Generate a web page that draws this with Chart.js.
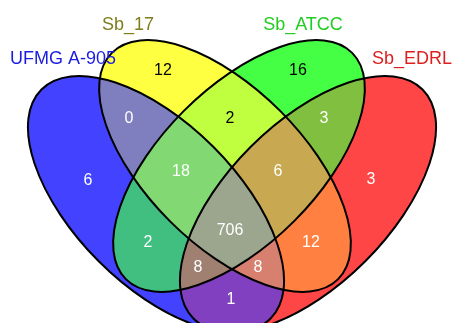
<!DOCTYPE html>
<html>
<head>
<meta charset="utf-8">
<script src="https://cdn.jsdelivr.net/npm/chart.js@4.4.1/dist/chart.umd.min.js"></script>
<style>
  html, body { margin: 0; padding: 0; background: #fff; }
  #wrap { width: 452px; height: 323px; }
</style>
</head>
<body>
<div id="wrap"><canvas id="venn"></canvas></div>
<script>
// ---- data ----
// sets: A = UFMG A-905, B = Sb_17, C = Sb_ATCC, D = Sb_EDRL
const setKeys = ['A', 'B', 'C', 'D'];
const setNames = ['UFMG A-905', 'Sb_17', 'Sb_ATCC', 'Sb_EDRL'];

// every region of the diagram and how many genes fall in it
const regionSets = ['A', 'B', 'C', 'D', 'AB', 'BC', 'CD', 'AC', 'BD', 'AD', 'ABC', 'BCD', 'ACD', 'ABD', 'ABCD'];
const regionCounts = [6, 12, 16, 3, 0, 2, 3, 2, 12, 1, 18, 6, 8, 8, 706];

// ---- layout (canvas units, 1 unit = 1px) ----
const ellipses = [
  { x: 156, y: 204, a: 162, b: 81, rot: 45 },
  { x: 225, y: 166, a: 160, b: 78, rot: 45 },
  { x: 239, y: 166, a: 160, b: 78, rot: -45 },
  { x: 308, y: 204, a: 162, b: 81, rot: -45 }
];
const regionLabelX = [88, 163, 298, 371, 129, 230, 324, 148, 311, 231, 181, 278, 198, 258, 230];
const regionLabelY = [181, 71, 71, 180, 119, 119, 119, 243, 243, 300, 172, 172, 268, 268, 231];
const setLabelX = [63, 128, 303, 412];
const setLabelY = [59, 25, 25, 59];

// ---- styles ----
const regionColors = [
  '#4242FF', '#FFFF42', '#45FF45', '#FF4646',
  '#7F7FBF', '#BFFF40', '#80BF40', '#40BF80', '#FF8040', '#8040C0',
  '#82D873', '#C8A850', '#A08070', '#D88070', '#9CA58E'
];
const darkText = ['B', 'C', 'BC'];
const setTextColors = ['#1C1CE0', '#7D7D1C', '#22CC22', '#DD1F1F'];
const FONT = '"Liberation Sans", Arial, sans-serif';

function ellipsePath(ctx, e, xs, ys) {
  const cx = xs.getPixelForValue(e.x);
  const cy = ys.getPixelForValue(e.y);
  const rx = Math.abs(xs.getPixelForValue(e.x + e.a) - cx);
  const ry = Math.abs(xs.getPixelForValue(e.x + e.b) - cx);
  ctx.ellipse(cx, cy, rx, ry, e.rot * Math.PI / 180, 0, Math.PI * 2);
}

// fills each region of the four ellipses, then the outlines
const vennPlugin = {
  id: 'venn',
  beforeDatasetsDraw(chart) {
    const ctx = chart.ctx;
    const xs = chart.scales.x, ys = chart.scales.y;
    const W = chart.width, H = chart.height;

    regionSets.forEach((key, i) => {
      ctx.save();
      setKeys.forEach((s, k) => {
        ctx.beginPath();
        if (key.includes(s)) {
          ellipsePath(ctx, ellipses[k], xs, ys);
          ctx.clip();
        } else {
          ctx.rect(-10, -10, W + 20, H + 20);
          ellipsePath(ctx, ellipses[k], xs, ys);
          ctx.clip('evenodd');
        }
      });
      ctx.fillStyle = regionColors[i];
      ctx.fillRect(0, 0, W, H);
      ctx.restore();
    });

    ctx.save();
    ctx.strokeStyle = '#000';
    ctx.lineWidth = 2;
    ellipses.forEach(e => {
      ctx.beginPath();
      ellipsePath(ctx, e, xs, ys);
      ctx.stroke();
    });
    ctx.restore();
  },
  afterDatasetsDraw(chart) {
    const ctx = chart.ctx;
    ctx.save();
    ctx.textAlign = 'center';
    ctx.textBaseline = 'middle';

    ctx.font = '16px ' + FONT;
    chart.getDatasetMeta(0).data.forEach((pt, i) => {
      ctx.fillStyle = darkText.includes(regionSets[i]) ? '#000' : '#fff';
      ctx.fillText(String(regionCounts[i]), pt.x, pt.y);
    });

    ctx.font = '18px ' + FONT;
    chart.getDatasetMeta(1).data.forEach((pt, i) => {
      ctx.fillStyle = setTextColors[i];
      ctx.fillText(setNames[i], pt.x, pt.y);
    });
    ctx.restore();
  }
};

new Chart(document.getElementById('venn'), {
  type: 'scatter',
  data: {
    datasets: [
      {
        label: 'regions',
        data: regionCounts.map((c, i) => ({ x: regionLabelX[i], y: regionLabelY[i] })),
        pointRadius: 0
      },
      {
        label: 'sets',
        data: setNames.map((n, i) => ({ x: setLabelX[i], y: setLabelY[i] })),
        pointRadius: 0
      }
    ]
  },
  options: {
    responsive: true,
    maintainAspectRatio: false,
    animation: false,
    layout: { padding: 0 },
    plugins: {
      legend: { display: false },
      tooltip: { enabled: false }
    },
    scales: {
      x: { type: 'linear', min: 0, max: 452, display: false },
      y: { type: 'linear', min: 0, max: 323, reverse: true, display: false }
    }
  },
  plugins: [vennPlugin]
});
</script>
</body>
</html>
